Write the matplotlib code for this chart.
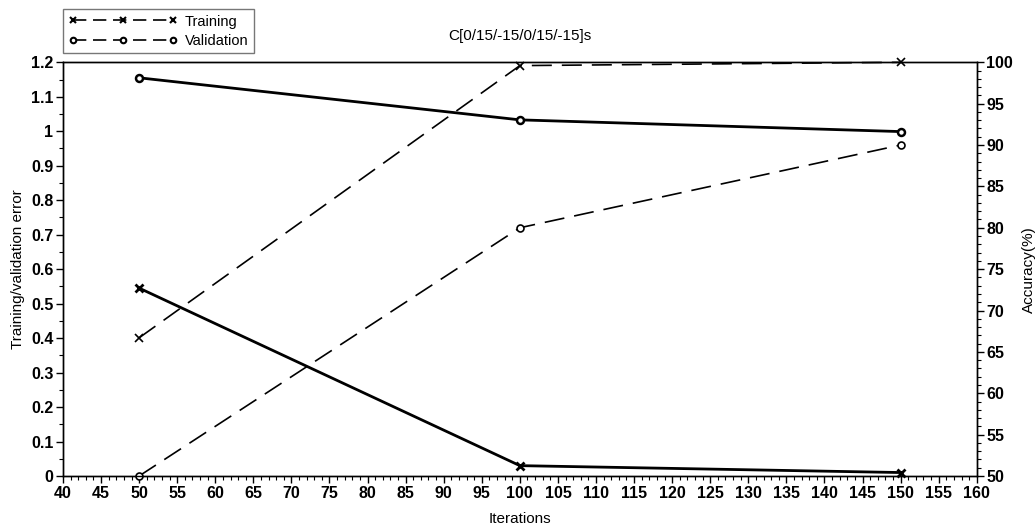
import matplotlib.pyplot as plt
from matplotlib.ticker import MultipleLocator
from matplotlib.lines import Line2D

plt.rcParams['font.family'] = ['Liberation Sans', 'DejaVu Sans']

iterations = [50, 100, 150]
train_error = [0.545, 0.03, 0.01]
valid_error = [1.155, 1.033, 0.999]
train_acc = [66.7, 99.6, 100.0]
valid_acc = [50.0, 80.0, 90.0]

fig = plt.figure(figsize=(10.36, 5.27), dpi=100)
ax = fig.add_axes([0.0608, 0.0968, 0.882, 0.785])
ax2 = ax.twinx()

ax.plot(iterations, train_error, color='black', lw=2, marker='x', ms=6, mew=2, clip_on=False, zorder=3)
ax.plot(iterations, valid_error, color='black', lw=2, marker='o', ms=5, mew=1.8,
        mfc='white', clip_on=False, zorder=3)
ax2.plot(iterations, train_acc, color='black', lw=1.2, marker='x', ms=6, mew=1.2,
         dashes=(12, 6), clip_on=False)
ax2.plot(iterations, valid_acc, color='black', lw=1.2, marker='o', ms=5, mew=1.2,
         mfc='white', dashes=(12, 6), clip_on=False)

ax.set_xlim(40, 160)
ax.set_ylim(0, 1.2)
ax2.set_ylim(50, 100)
ax.xaxis.set_major_locator(MultipleLocator(5))
ax.xaxis.set_minor_locator(MultipleLocator(1))
ax.yaxis.set_minor_locator(MultipleLocator(0.05))
ax2.yaxis.set_major_locator(MultipleLocator(5))
ax2.yaxis.set_minor_locator(MultipleLocator(1))
ax.set_yticks([0, 0.1, 0.2, 0.3, 0.4, 0.5, 0.6, 0.7, 0.8, 0.9, 1, 1.1, 1.2])
ax.set_yticklabels(['0', '0.1', '0.2', '0.3', '0.4', '0.5', '0.6', '0.7', '0.8', '0.9', '1', '1.1', '1.2'])

for a in (ax, ax2):
    a.tick_params(which='major', length=5, width=1, labelsize=11.5, direction='out', pad=2)
    a.tick_params(which='minor', length=3, width=0.8, direction='out')
    for s in a.spines.values():
        s.set_linewidth(1)
for lab in ax.get_xticklabels() + ax.get_yticklabels() + ax2.get_yticklabels():
    lab.set_fontweight('bold')

ax.set_xlabel('Iterations', fontsize=11, labelpad=8)
ax.set_ylabel('Training/validation error', fontsize=11, labelpad=4)
ax2.set_ylabel('Accuracy(%)', fontsize=11, labelpad=6)
ax.set_title('C[0/15/-15/0/15/-15]s', fontsize=11, pad=16)

handles = [
    Line2D([], [], color='black', lw=1.2, marker='x', ms=5, mew=1.5, dashes=(8, 4)),
    Line2D([], [], color='black', lw=1.2, marker='o', ms=4, mew=1.5, mfc='white', dashes=(8, 4)),
]
leg = fig.legend(handles, ['Training', 'Validation'], loc='upper left',
                 bbox_to_anchor=(0.061, 0.982), numpoints=3, handlelength=7.5,
                 fontsize=10.5, frameon=True, fancybox=False, edgecolor='#555555',
                 borderpad=0.35, labelspacing=0.35, handletextpad=0.5,
                 borderaxespad=0)
leg.get_frame().set_linewidth(1)

fig.savefig('out.png', dpi=100)
